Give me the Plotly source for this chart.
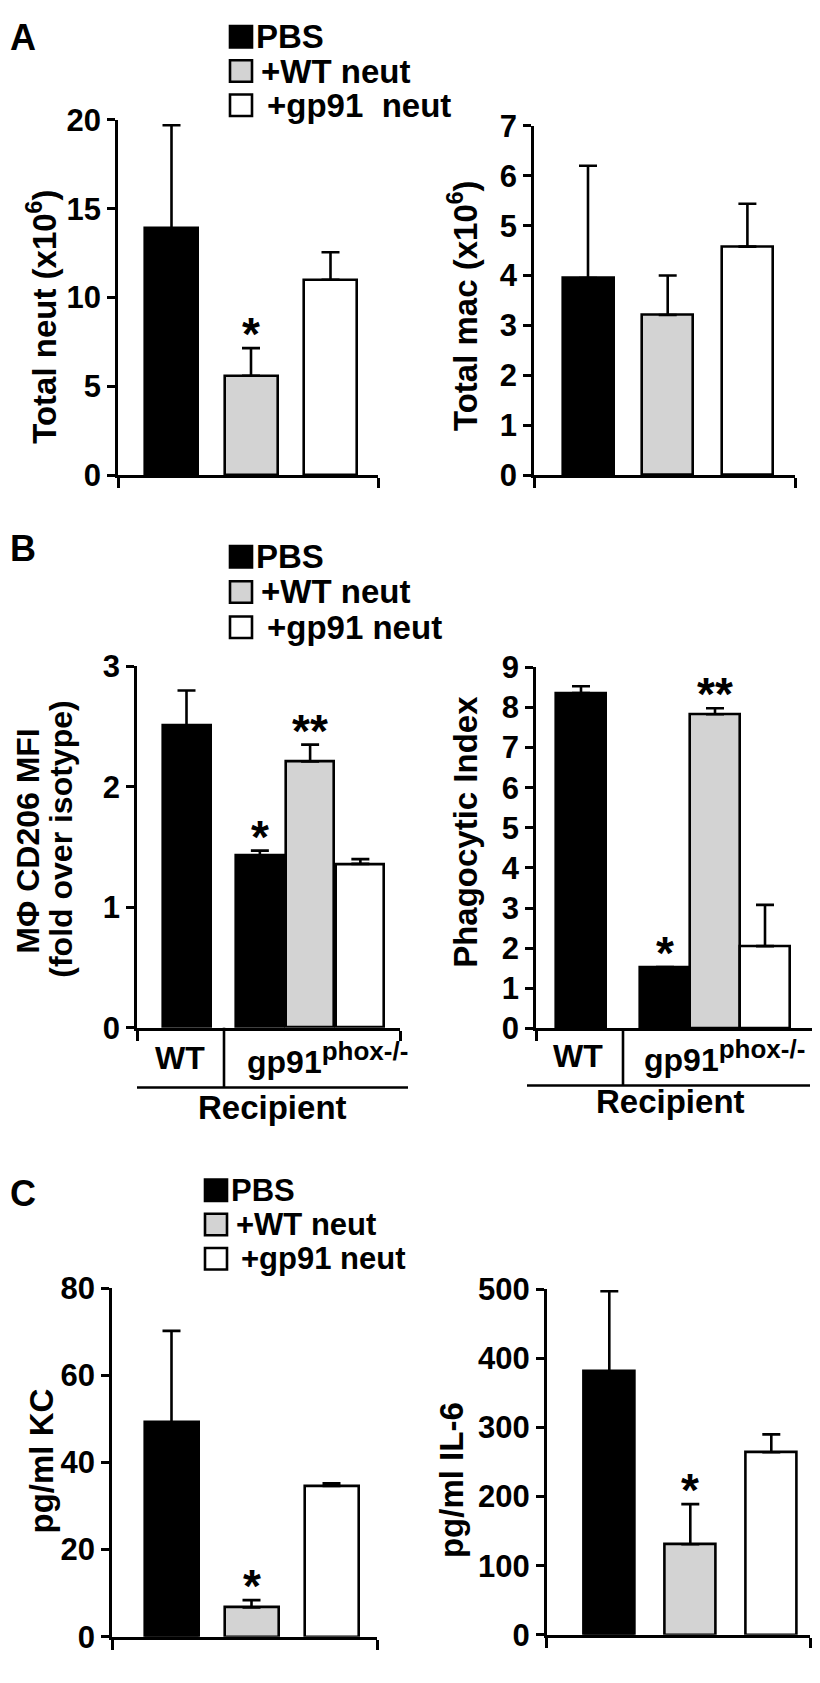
import plotly.graph_objects as go

W, H = 820, 1683
OFF = 8  # the page body adds an 8 px margin; positions below are page pixels
FONT = "Liberation Sans, Arial, Helvetica, sans-serif"

# ---------------- data ----------------
treatments = ["PBS", "+WT neut", "+gp91 neut"]
bar_colors = ["#000000", "#d3d3d3", "#ffffff"]

# Panel A
a_neut = [13.9, 5.6, 11.0]
a_neut_err = [5.8, 1.55, 1.55]
a_neut_sig = ["", "*", ""]
a_mac = [3.95, 3.21, 4.58]
a_mac_err = [2.25, 0.79, 0.86]
a_mac_sig = ["", "", ""]

# Panel B (recipient WT: PBS ; recipient gp91phox-/-: PBS, +WT neut, +gp91 neut)
b_treat = ["PBS", "PBS", "+WT neut", "+gp91 neut"]
b_recipient = ["WT", "gp91", "gp91", "gp91"]
b_cd206 = [2.51, 1.43, 2.21, 1.36]
b_cd206_err = [0.29, 0.04, 0.14, 0.04]
b_cd206_sig = ["", "*", "**", ""]
b_phago = [8.36, 1.53, 7.83, 2.05]
b_phago_err = [0.17, 0.0, 0.15, 1.03]
b_phago_sig = ["", "*", "**", ""]

# Panel C
c_kc = [49.2, 6.7, 34.6]
c_kc_err = [21.0, 1.7, 0.6]
c_kc_sig = ["", "*", ""]
c_il6 = [381, 131, 264]
c_il6_err = [116, 58, 26]
c_il6_sig = ["", "*", ""]

y_ticks_a1 = [0, 5, 10, 15, 20]
y_ticks_a2 = [0, 1, 2, 3, 4, 5, 6, 7]
y_ticks_b1 = [0, 1, 2, 3]
y_ticks_b2 = [0, 1, 2, 3, 4, 5, 6, 7, 8, 9]
y_ticks_c1 = [0, 20, 40, 60, 80]
y_ticks_c2 = [0, 100, 200, 300, 400, 500]

# ---------------- helpers ----------------
def px(x):
    return (x - OFF) / W


def py(y):
    return 1 - (y - OFF) / H


LW = 2.6
TXT = 33
fig = go.Figure()
annotations = []
shapes = []

color_of = {t: c for t, c in zip(treatments, bar_colors)}


def bold(size):
    return dict(family=FONT, size=size, color="black", weight="bold")


# panel geometry (pixels): left, right, bottom, top, first bar centre, spacing, bar width
panels = [
    dict(vals=a_neut, err=a_neut_err, sig=a_neut_sig, treat=treatments, pos=[0, 1, 2],
         left=118, right=378, bottom=467.7, top=105, c0=171.5, sp=79.5, bw=53,
         yr=[0, 20], ticks=y_ticks_a1),
    dict(vals=a_mac, err=a_mac_err, sig=a_mac_sig, treat=treatments, pos=[0, 1, 2],
         left=534, right=795, bottom=467.7, top=111, c0=588, sp=79.7, bw=51,
         yr=[0, 7], ticks=y_ticks_a2),
    dict(vals=b_cd206, err=b_cd206_err, sig=b_cd206_sig, treat=b_treat, pos=[0, 1.46, 2.46, 3.46],
         left=137, right=400, bottom=1032, top=663, c0=186.5, sp=50.25, bw=48,
         yr=[0, 3], ticks=y_ticks_b1),
    dict(vals=b_phago, err=b_phago_err, sig=b_phago_sig, treat=b_treat, pos=[0, 1.68, 2.68, 3.68],
         left=536, right=816, bottom=1032.7, top=664, c0=581, sp=50, bw=50,
         yr=[0, 9], ticks=y_ticks_b2),
    dict(vals=c_kc, err=c_kc_err, sig=c_kc_sig, treat=treatments, pos=[0, 1, 2],
         left=112, right=377, bottom=1654, top=1298, c0=171.5, sp=80, bw=54,
         yr=[0, 80], ticks=y_ticks_c1),
    dict(vals=c_il6, err=c_il6_err, sig=c_il6_sig, treat=treatments, pos=[0, 1, 2],
         left=546.7, right=810, bottom=1652, top=1299, c0=609.3, sp=81, bw=51,
         yr=[0, 500], ticks=y_ticks_c2),
]

layout_axes = {}
for i, p in enumerate(panels):
    k = "" if i == 0 else str(i + 1)
    xr = [(p["left"] - p["c0"]) / p["sp"], (p["right"] - p["c0"]) / p["sp"]]
    fig.add_trace(go.Bar(
        x=p["pos"], y=p["vals"], width=p["bw"] / p["sp"],
        marker=dict(color=[color_of[t] for t in p["treat"]], line=dict(color="black", width=LW)),
        error_y=dict(type="data", symmetric=False, array=p["err"], arrayminus=[0] * len(p["err"]),
                     color="black", thickness=LW, width=9),
        xaxis="x" + k, yaxis="y" + k, showlegend=False, hoverinfo="skip",
    ))
    layout_axes["xaxis" + k] = dict(
        domain=[px(p["left"]), px(p["right"])], range=xr, anchor="y" + k,
        showline=True, linecolor="black", linewidth=LW, showgrid=False, zeroline=False,
        tickmode="array", tickvals=xr, showticklabels=False, ticks="outside", ticklen=10,
        tickwidth=LW, tickcolor="black", fixedrange=True,
    )
    layout_axes["yaxis" + k] = dict(
        domain=[py(p["bottom"]), py(p["top"])], range=p["yr"], anchor="x" + k,
        showline=True, linecolor="black", linewidth=LW, showgrid=False, zeroline=False,
        tickmode="array", tickvals=p["ticks"], ticks="outside", ticklen=8, tickwidth=LW,
        tickcolor="black", tickfont=bold(31), fixedrange=True,
    )
    for xv, v, e, s in zip(p["pos"], p["vals"], p["err"], p["sig"]):
        if s:
            annotations.append(dict(
                x=xv, y=v + e, xref="x" + k, yref="y" + k, text=s, showarrow=False,
                yanchor="bottom", xanchor="center", yshift=-14, font=bold(46)))

fig.update_layout(**layout_axes)

# ---------------- axis titles ----------------
def vtitle(x, y, text, size=TXT):
    annotations.append(dict(x=px(x), y=py(y), xref="paper", yref="paper", text=text,
                            textangle=-90, showarrow=False, xanchor="center", yanchor="middle",
                            font=bold(size)))

vtitle(42, 306, "Total neut (x10<sup>6</sup>)")
vtitle(463, 295, "Total mac (x10<sup>6</sup>)")
vtitle(28, 842, "MΦ CD206 MFI", 32)
vtitle(61, 840, "(fold over isotype)", 32)
vtitle(466, 832, "Phagocytic Index")
vtitle(41, 1475, "pg/ml KC")
vtitle(451, 1494, "pg/ml IL-6")

# ---------------- panel letters ----------------
for letter, y in [("A", 21), ("B", 543), ("C", 1201)]:
    annotations.append(dict(x=0.0005, y=py(y), xref="paper", yref="paper", text=letter,
                            showarrow=False, xanchor="left", yanchor="middle", font=bold(36)))

# ---------------- legends ----------------
def legend(x0, rows, labels, text_x, fsize=TXT, size=22):
    for (yc, tx), lab, col in zip(zip(rows, text_x), labels, bar_colors):
        shapes.append(dict(type="rect", xref="paper", yref="paper",
                           x0=px(x0), x1=px(x0 + size), y0=py(yc + size / 2), y1=py(yc - size / 2),
                           fillcolor=col, line=dict(color="black", width=LW)))
        annotations.append(dict(x=px(tx), y=py(yc), xref="paper", yref="paper", text=lab,
                                showarrow=False, xanchor="left", yanchor="middle", font=bold(fsize)))

legend(230, [20, 55, 90], ["PBS", "+WT neut", "+gp91  neut"], [254, 259, 265])
legend(230, [551, 587, 623], ["PBS", "+WT neut", "+gp91 neut"], [254, 259, 265])
legend(205, [1198, 1233, 1268], ["PBS", "+WT neut", "+gp91 neut"], [229, 234, 239], fsize=31)

# ---------------- recipient grouping (panel B) ----------------
GP = "gp91<sup><span style='font-size:26px'>phox-/-</span></sup>"


def recipient_block(xa, y_axis_px, sep_x, line_y, line_x0, line_x1, wt_x, gp_x, lab_y, rec_x, rec_y):
    shapes.append(dict(type="line", xref="paper", yref="paper", x0=px(sep_x), x1=px(sep_x),
                       y0=py(y_axis_px), y1=py(line_y), line=dict(color="black", width=LW)))
    shapes.append(dict(type="line", xref="paper", yref="paper", x0=px(line_x0), x1=px(line_x1),
                       y0=py(line_y), y1=py(line_y), line=dict(color="black", width=LW)))
    annotations.append(dict(x=wt_x, y=py(lab_y), xref=xa, yref="paper", text="WT",
                            showarrow=False, xanchor="center", yanchor="middle", font=bold(32)))
    annotations.append(dict(x=gp_x, y=py(lab_y), xref=xa, yref="paper", text=GP,
                            showarrow=False, xanchor="center", yanchor="middle", font=bold(32)))
    annotations.append(dict(x=px(rec_x), y=py(rec_y), xref="paper", yref="paper", text="Recipient",
                            showarrow=False, xanchor="center", yanchor="middle", font=bold(TXT)))

recipient_block("x3", 1032, 224, 1093, 137, 408, -0.13, 2.8, 1063, 272, 1113)
recipient_block("x4", 1032.7, 623, 1091, 527, 810, -0.06, 2.86, 1061, 670, 1107)

fig.update_layout(
    width=W, height=H, margin=dict(l=0, r=0, t=0, b=0),
    paper_bgcolor="white", plot_bgcolor="white",
    font=dict(family=FONT, color="black"),
    annotations=annotations, shapes=shapes, bargap=0,
)

fig.write_html("out.html")
